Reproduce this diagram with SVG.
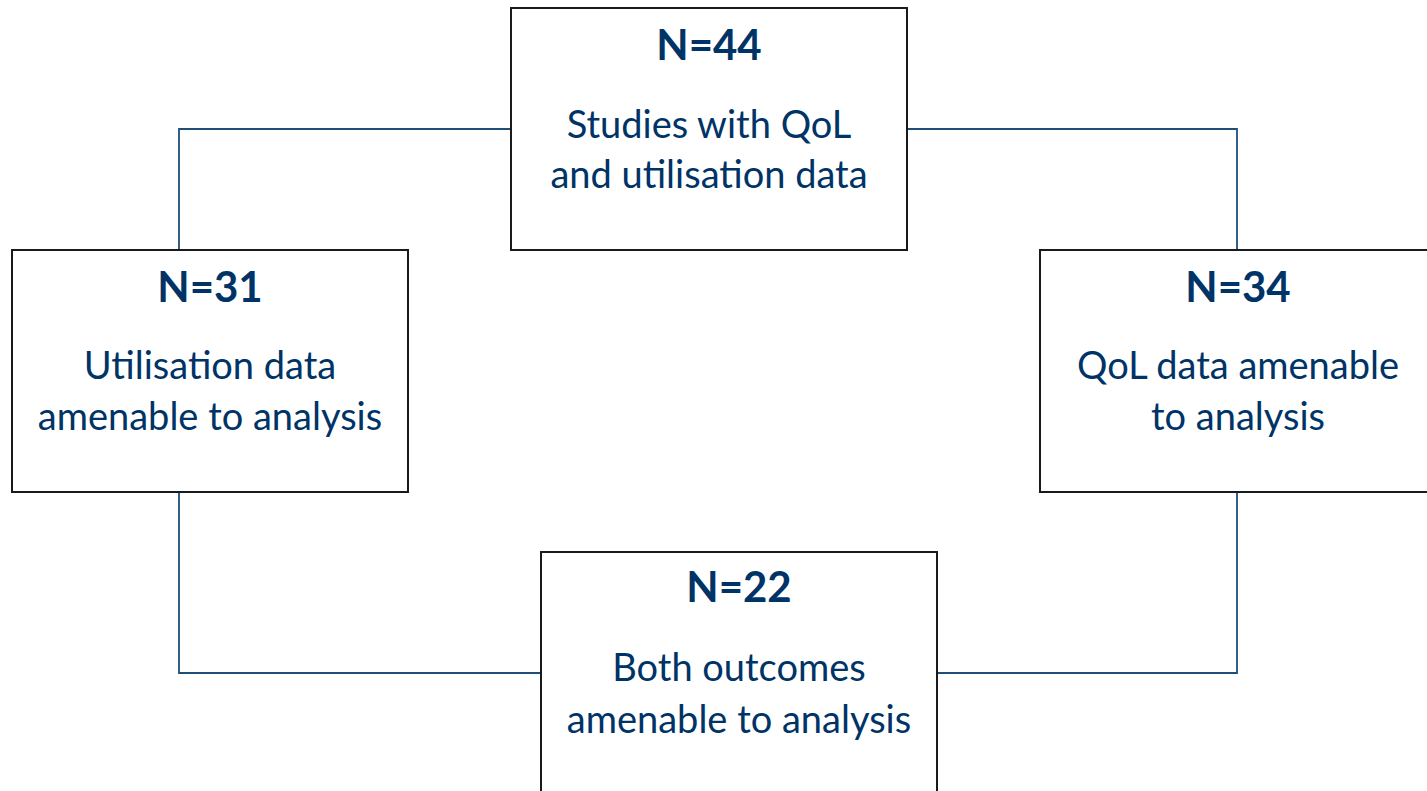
<svg xmlns="http://www.w3.org/2000/svg" width="1427" height="791" viewBox="0 0 1427 791">
<style>
.box{fill:#fff;stroke:#1a1a1a;stroke-width:2}
.conn{fill:none;stroke:#1f4e79;stroke-width:1.8}
.t{font-family:Lato,"Open Sans","Liberation Sans",sans-serif;fill:#003366;text-anchor:middle}
.h{font-size:42px;font-weight:bold}
.b{font-size:38px}
</style>
<rect width="1427" height="791" fill="#fff"/>
<g id="connectors">
<polyline class="conn" points="511,129 179,129 179,250"/>
<polyline class="conn" points="907,129 1237,129 1237,250"/>
<polyline class="conn" points="179,492 179,673 541,673"/>
<polyline class="conn" points="1237,492 1237,673 937,673"/>
</g>
<g id="n44">
<rect class="box" x="511" y="8" width="396" height="242"/>
<text class="t h" x="709" y="60">N=44</text>
<text class="t b" x="709" y="138">Studies with QoL</text>
<text class="t b" x="709" y="188">and utilisation data</text>
</g>
<g id="n31">
<rect class="box" x="12" y="250" width="396" height="242"/>
<text class="t h" x="210" y="302">N=31</text>
<text class="t b" x="210" y="379">Utilisation data</text>
<text class="t b" x="210" y="430">amenable to analysis</text>
</g>
<g id="n34">
<rect class="box" x="1040" y="250" width="396" height="242"/>
<text class="t h" x="1238" y="302">N=34</text>
<text class="t b" x="1238" y="379">QoL data amenable</text>
<text class="t b" x="1238" y="430">to analysis</text>
</g>
<g id="n22">
<rect class="box" x="541" y="552" width="396" height="260"/>
<text class="t h" x="739" y="602">N=22</text>
<text class="t b" x="739" y="681">Both outcomes</text>
<text class="t b" x="739" y="733">amenable to analysis</text>
</g>
</svg>
